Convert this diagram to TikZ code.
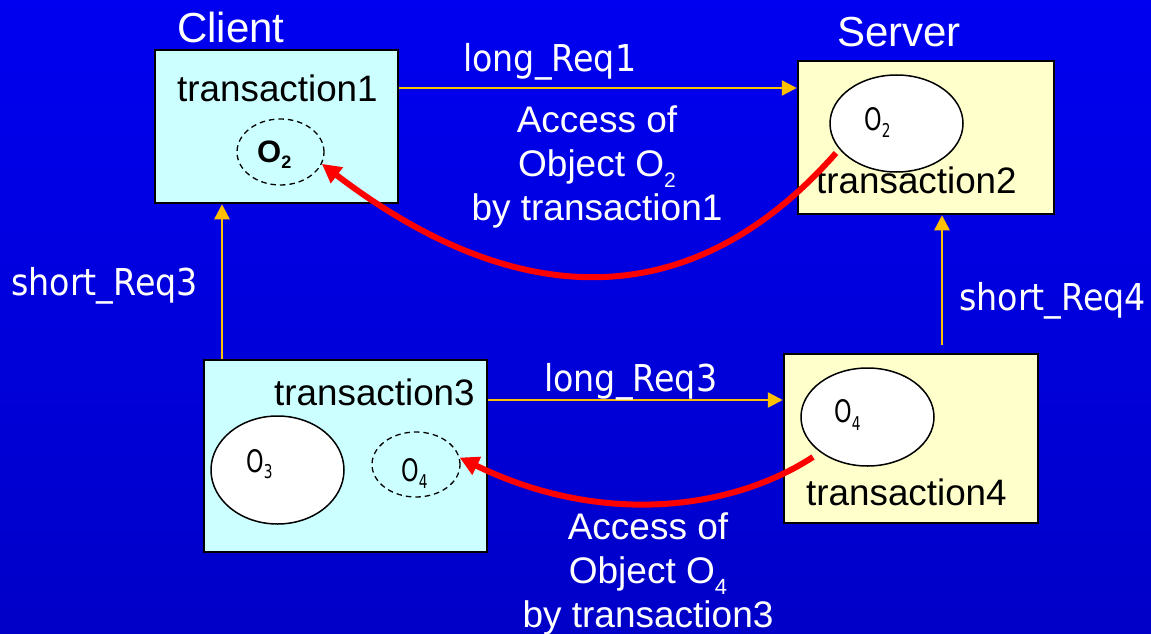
\documentclass[tikz,border=0pt]{standalone}
\usepackage{fontspec}
\setmainfont{Liberation Sans}
\newfontfamily\reqfont[FakeStretch=0.9]{DejaVu Sans}
\newfontfamily\objfont[FakeStretch=0.72]{DejaVu Sans}
\usetikzlibrary{arrows.meta,shapes.geometric}

\definecolor{bgtop}{RGB}{0,0,240}
\definecolor{bgmid}{RGB}{0,0,236}
\definecolor{bgbot}{RGB}{0,0,200}
\definecolor{clientfill}{RGB}{204,255,255}
\definecolor{serverfill}{RGB}{255,255,204}
\definecolor{reqcol}{RGB}{255,192,0}
\definecolor{accesscol}{RGB}{255,0,0}

% lowered index: drop, size, text
\newcommand\lowidx[3]{\raisebox{-#1}{\fontsize{#2}{#2}\selectfont #3}}

\begin{document}
\begin{tikzpicture}[x=1pt,y=-1pt,
  clientbox/.style={draw=black,line width=2.5pt,fill=clientfill,rectangle,inner sep=0pt},
  serverbox/.style={draw=black,line width=2.5pt,fill=serverfill,rectangle,inner sep=0pt},
  objshape/.style={ellipse,draw=black,line width=1.5pt,fill=white,inner sep=0pt},
  copyshape/.style={ellipse,draw=black,line width=1.3pt,dash pattern=on 5.5pt off 4pt,inner sep=0pt},
  title/.style={text=white,inner sep=0pt,anchor=base west,font=\fontsize{42}{42}\selectfont},
  txname/.style={text=black,inner sep=0pt,anchor=base west,font=\fontsize{36.8}{40}\selectfont},
  objlabel/.style={text=black,inner sep=0pt,anchor=base west,font=\objfont\fontsize{31}{31}\selectfont},
  reqlabel/.style={text=white,inner sep=0pt,anchor=base west,font=\reqfont\fontsize{37}{40}\selectfont},
  accesslabel/.style={text=white,inner sep=0pt,anchor=base,align=center,font=\fontsize{37}{44}\selectfont},
  req/.style={draw=reqcol,line width=2.5pt,-{Triangle[length=15pt,width=15pt]}},
  access/.style={draw=accesscol,line width=6pt,-{Triangle[length=19pt,width=19pt]}}]

\useasboundingbox (0,0) rectangle (1151,634);
\shade[top color=bgtop,middle color=bgmid,bottom color=bgbot] (0,0) rectangle (1151,634);

% boxes
\node[clientbox,minimum width=243pt,minimum height=153pt] (t1) at (276.5,126.5) {};
\node[serverbox,minimum width=256pt,minimum height=153pt] (t2) at (926,137.5) {};
\node[clientbox,minimum width=283pt,minimum height=192pt] (t3) at (345.5,456) {};
\node[serverbox,minimum width=254pt,minimum height=169pt] (t4) at (911,438.5) {};

% titles
\node[title] (client) at (177,43) {Client};
\node[title] (server) at (837,47) {Server};

% transaction names
\node[txname] (n1) at (177,101) {transaction1};
\node[txname] (n2) at (816,193) {transaction2};
\node[txname] (n3) at (274,405) {transaction3};
\node[txname] (n4) at (806,505) {transaction4};

% objects
\node[copyshape,minimum width=87pt,minimum height=66pt] (cO2) at (280.5,152) {};
\node[objshape,minimum width=133pt,minimum height=97pt] (sO2) at (896.5,123.5) {};
\node[objshape,minimum width=133pt,minimum height=108pt] (O3) at (277.5,470) {};
\node[copyshape,minimum width=88pt,minimum height=65pt] (dO4) at (416,464.5) {};
\node[objshape,minimum width=133pt,minimum height=98pt] (sO4) at (867.5,417) {};

\node[text=black,inner sep=0pt,anchor=base west,font=\bfseries\fontsize{31}{31}\selectfont]
  (lcO2) at (257,162) {O\lowidx{6pt}{18}{2}};
\node[objlabel] (lsO2) at (864,130) {O\lowidx{7pt}{19}{2}};
\node[objlabel] (lO3) at (246,472) {O\lowidx{6pt}{19}{3}};
\node[objlabel] (ldO4) at (401,481) {O\lowidx{7pt}{19}{4}};
\node[objlabel] (lsO4) at (834,422) {O\lowidx{8pt}{19}{4}};

% request connectors
\coordinate (y1) at (0,88);
\coordinate (y3) at (0,400);
\coordinate (x3) at (222,0);
\coordinate (s4) at (942,345);
\draw[req] (t1.east |- y1) -- (t2.west |- y1);
\draw[req] (t3.east |- y3) -- (t4.west |- y3);
\draw[req] (t3.north -| x3) -- (t1.south -| x3);
\draw[req] (s4) -- (t2.south -| s4);

\node[reqlabel] (lr1) at (463,71) {long\_Req1};
\node[reqlabel] (lr3) at (544,391) {long\_Req3};
\node[reqlabel] (sr3) at (11,295) {short\_Req3};
\node[reqlabel] (sr4) at (959,310) {short\_Req4};

% object access
\coordinate (r1s) at (836,153);
\coordinate (r2s) at (813,457);
\draw[access] (r1s) .. controls (680,330) and (500,300) .. (cO2.-16);
\draw[access] (r2s) .. controls (730,511) and (600,526) .. (dO4.9);

% the base anchor of a multi-line node sits on its last line
\node[accesslabel] (a1) at (597,220)
  {Access of\\Object O\lowidx{11pt}{21}{2}\\by transaction1};
\node[accesslabel] (a2) at (648,627)
  {Access of\\Object O\lowidx{11pt}{22}{4}\\by transaction3};
\end{tikzpicture}
\end{document}
